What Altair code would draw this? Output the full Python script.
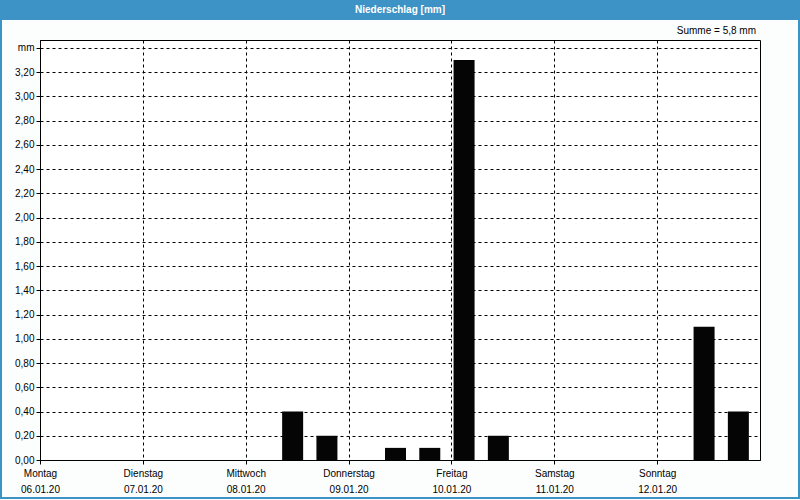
import json
import altair as alt
import pandas as pd

# ---- data ----
days = ["Montag", "Dienstag", "Mittwoch", "Donnerstag", "Freitag", "Samstag", "Sonntag"]
dates = ["06.01.20", "07.01.20", "08.01.20", "09.01.20", "10.01.20", "11.01.20", "12.01.20"]
# start hour (since Monday 00:00) of each 8-hour precipitation interval
bin_start_hours = [56, 64, 80, 88, 96, 104, 152, 160]
values = [0.4, 0.2, 0.1, 0.1, 3.3, 0.2, 1.1, 0.4]
y_ticks = [0.0, 0.2, 0.4, 0.6, 0.8, 1.0, 1.2, 1.4, 1.6, 1.8, 2.0, 2.2, 2.4, 2.6, 2.8, 3.0, 3.2, 3.4]
day_ticks = [0, 24, 48, 72, 96, 120, 144]
title_text = "Niederschlag [mm]"
unit = "mm"

total = sum(values)
summe_text = "Summe = " + f"{total:.1f}".replace(".", ",") + " " + unit
y_max = max(values) * 1.05

df = pd.DataFrame({"start": bin_start_hours, "value": values})

FONT = "Liberation Sans"
BLUE = "#3d93c5"

x_scale = alt.Scale(domain=[0, 168], nice=False, zero=False)
y_scale = alt.Scale(domain=[0, y_max], nice=False)

x_label_expr = (
    f"[{json.dumps(days)}[round(datum.value/24)], {json.dumps(dates)}[round(datum.value/24)]]"
)
y_label_expr = (
    f"datum.value > 3.39 ? '{unit}' : replace(format(datum.value, '.2f'), '.', ',')"
)

bars = (
    alt.Chart(df)
    .transform_calculate(x0="datum.start + 0.5", x1="datum.start + 5.4")
    .mark_rect(color="#050505")
    .encode(
        x=alt.X(
            "x0:Q",
            scale=x_scale,
            axis=alt.Axis(
                title="",
                values=day_ticks,
                labelExpr=x_label_expr,
                labelAlign="center",
                labelBaseline="top",
                labelPadding=4,
                labelLineHeight=16,
                tickSize=4,
                grid=True,
                labelFlush=False,
                labelOverlap=False,
            ),
        ),
        x2="x1:Q",
        y=alt.Y(
            "value:Q",
            scale=y_scale,
            axis=alt.Axis(
                title="",
                values=y_ticks,
                labelExpr=y_label_expr,
                tickSize=4,
                labelPadding=2,
                grid=True,
                labelOverlap=False,
                labelFlush=False,
            ),
        ),
        y2=alt.datum(0),
    )
)

one = pd.DataFrame({"a": [0]})

frame_border = (
    alt.Chart(one)
    .mark_rect(fillOpacity=0, stroke=BLUE, strokeWidth=2)
    .encode(x=alt.value(-39), x2=alt.value(759), y=alt.value(-39), y2=alt.value(458))
)

title_bar = (
    alt.Chart(one)
    .mark_rect(fill=BLUE)
    .encode(x=alt.value(-40), x2=alt.value(760), y=alt.value(-40), y2=alt.value(-20))
)

title = (
    alt.Chart(one)
    .mark_text(font=FONT, fontSize=10, fontWeight="bold", color="white", align="center", baseline="middle")
    .encode(x=alt.value(360), y=alt.value(-30), text=alt.value(title_text))
)

summe = (
    alt.Chart(one)
    .mark_text(font=FONT, fontSize=10, color="black", align="right", baseline="middle")
    .encode(x=alt.value(716), y=alt.value(-9), text=alt.value(summe_text))
)

chart = (
    alt.layer(bars, frame_border, title_bar, title, summe)
    .properties(
        width=720,
        height=420,
        autosize=alt.AutoSizeParams(type="none"),
        padding={"left": 40, "top": 40, "right": 40, "bottom": 40},
        background="#fcfefe",
    )
    .configure_view(stroke="black", strokeWidth=1, fill="white")
    .configure_axis(
        labelFont=FONT,
        labelFontSize=10,
        labelColor="black",
        tickColor="black",
        domainColor="black",
        gridColor="black",
        gridDash=[3, 3],
        gridOpacity=1,
        gridWidth=1,
        domainWidth=1,
    )
)

chart.save("out.html", embed_options={"renderer": "svg", "actions": False})
